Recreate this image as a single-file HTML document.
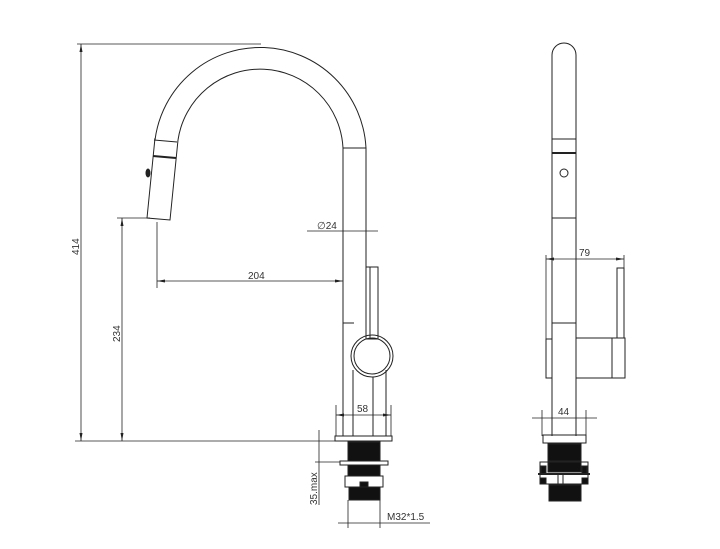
<!DOCTYPE html>
<html><head><style>body{margin:0;background:#fff}svg{display:block}text{font-family:"Liberation Sans",sans-serif;font-size:10px;fill:#333}</style></head>
<body>
<svg width="720" height="549" viewBox="0 0 720 549" stroke="#222" stroke-width="1" fill="none">
<defs><marker id="a" markerWidth="8" markerHeight="6" refX="8" refY="3" orient="auto-start-reverse" markerUnits="userSpaceOnUse"><path d="M0 1.5 L8 3 L0 4.5z" fill="#222" stroke="none"/></marker></defs>
<!-- arc spout -->
<path d="M155 140 A106 106 0 0 1 366 148 L366 268"/>
<path d="M178 140 A83 83 0 0 1 343 148 L343 436"/>
<line x1="343" y1="148" x2="366" y2="148"/>
<!-- spray head -->
<path d="M155 138 L147 218 L170 220 L178 140"/>
<line x1="154" y1="140" x2="177" y2="142"/>
<line x1="153" y1="156" x2="176" y2="158" stroke-width="2"/>
<ellipse cx="148" cy="173" rx="2" ry="4" fill="#222"/>
<!-- lever & knob -->
<rect x="366" y="267" width="12" height="72"/>
<line x1="370" y1="267" x2="370" y2="339"/>
<circle cx="372" cy="356" r="21"/>
<circle cx="372" cy="356" r="18"/>
<line x1="353" y1="370" x2="353" y2="436"/><line x1="373" y1="377" x2="373" y2="436"/><line x1="386" y1="370" x2="386" y2="436"/>
<line x1="343" y1="323" x2="354" y2="323"/>
<!-- base -->
<rect x="335" y="436" width="57" height="5"/>
<rect x="348" y="442" width="32" height="19" fill="#111"/>
<rect x="340" y="461" width="48" height="4"/>
<rect x="348" y="465" width="32" height="11" fill="#111"/>
<rect x="345" y="476" width="38" height="11"/>
<rect x="360" y="482" width="8" height="5" fill="#111"/>
<rect x="349" y="487" width="31" height="13" fill="#111"/>
<!-- dims front -->
<g stroke-width="0.8">
<line x1="77" y1="44" x2="261" y2="44"/><line x1="81" y1="44" x2="81" y2="441" marker-start="url(#a)" marker-end="url(#a)"/>
<line x1="75" y1="441" x2="335" y2="441"/>
<line x1="117" y1="218" x2="150" y2="218"/><line x1="122" y1="218" x2="122" y2="441" marker-start="url(#a)" marker-end="url(#a)"/>
<line x1="157" y1="222" x2="157" y2="288"/><line x1="157" y1="281" x2="343" y2="281" marker-start="url(#a)" marker-end="url(#a)"/>
<line x1="307" y1="231" x2="378" y2="231"/>
<line x1="336" y1="405" x2="336" y2="436"/><line x1="391" y1="405" x2="391" y2="436"/><line x1="336" y1="415" x2="391" y2="415" marker-start="url(#a)" marker-end="url(#a)"/>
<line x1="319" y1="430" x2="319" y2="505"/><line x1="315" y1="462" x2="340" y2="462"/>
<line x1="348" y1="500" x2="348" y2="528"/><line x1="380" y1="500" x2="380" y2="528"/><line x1="338" y1="523" x2="430" y2="523"/>
</g>
<text x="317" y="229" stroke="none">∅24</text>
<text x="248" y="279" stroke="none">204</text>
<text x="357" y="412" stroke="none">58</text>
<text x="387" y="520" stroke="none" font-size="10">M32*1.5</text>
<text transform="translate(79,255) rotate(-90)" stroke="none">414</text>
<text transform="translate(120,342) rotate(-90)" stroke="none">234</text>
<text transform="translate(317,505) rotate(-90)" stroke="none">35.max</text>
<!-- side view -->
<path d="M552 436 L552 55 A12 12 0 0 1 576 55 L576 436"/>
<line x1="552" y1="139" x2="576" y2="139"/><line x1="552" y1="153" x2="576" y2="153" stroke-width="2"/>
<circle cx="564" cy="173" r="4"/>
<line x1="552" y1="218" x2="576" y2="218"/><line x1="552" y1="323" x2="576" y2="323"/>
<rect x="546" y="339" width="6" height="39"/>
<rect x="576" y="338" width="36" height="40"/>
<rect x="612" y="338" width="13" height="40"/>
<rect x="617" y="268" width="7" height="70"/>
<rect x="543" y="435" width="43" height="8"/>
<rect x="548" y="444" width="33" height="17" fill="#111"/>
<rect x="540" y="462" width="48" height="22"/>
<rect x="548" y="462" width="33" height="10" fill="#111"/>
<rect x="541" y="466" width="5" height="8" fill="#111"/>
<rect x="582" y="466" width="5" height="8" fill="#111"/>
<line x1="538" y1="474" x2="590" y2="474" stroke-width="2"/>
<rect x="540" y="478" width="6" height="6" fill="#111"/>
<rect x="582" y="478" width="6" height="6" fill="#111"/>
<line x1="558" y1="474" x2="558" y2="484"/><line x1="563" y1="474" x2="563" y2="484"/>
<rect x="549" y="485" width="32" height="16" fill="#111"/>
<g stroke-width="0.8">
<line x1="546" y1="255" x2="546" y2="339"/><line x1="624" y1="255" x2="624" y2="268"/>
<line x1="546" y1="259" x2="624" y2="259" marker-start="url(#a)" marker-end="url(#a)"/>
<line x1="542" y1="410" x2="542" y2="436"/><line x1="586" y1="410" x2="586" y2="436"/>
<line x1="532" y1="418" x2="597" y2="418"/>
</g>
<text x="579" y="256" stroke="none">79</text>
<text x="558" y="415" stroke="none">44</text>
</svg>
</body></html>
